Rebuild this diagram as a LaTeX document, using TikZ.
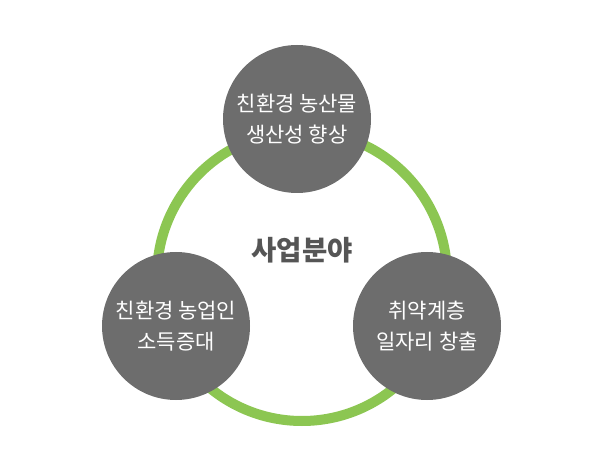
\documentclass[tikz,border=0pt]{standalone}
\usepackage{fontspec}
\setmainfont{Noto Sans CJK KR}
\usetikzlibrary{positioning}
\definecolor{ringgreen}{HTML}{8CC652}
\definecolor{bubblegray}{HTML}{6D6D6D}
\definecolor{titlegray}{HTML}{555555}
\tikzstyle{field} = [circle, fill=bubblegray, minimum size=148pt, inner sep=0pt, text=white, align=center, font=\fontsize{21}{31}\selectfont]
\tikzstyle{title} = [text=titlegray, font=\fontsize{27.5}{30}\selectfont\bfseries]
\tikzstyle{ring} = [draw=ringgreen, line width=10pt]

\begin{document}
\begin{tikzpicture}[x=1pt, y=1pt]
\useasboundingbox (0,0) rectangle (600,469);

% ring behind the three fields
\coordinate (hub) at (302,193);
\draw [ring] (hub) circle (145);

\node (title) [title] at (302,219) {사업분야};

\node (produce) [field] at (297,350) {친환경 농산물\\생산성 향상};
\node (income) [field] at (176,143) {친환경 농업인\\소득증대};
\node (jobs) [field] at (427,143) {취약계층\\일자리 창출};

\end{tikzpicture}
\end{document}
